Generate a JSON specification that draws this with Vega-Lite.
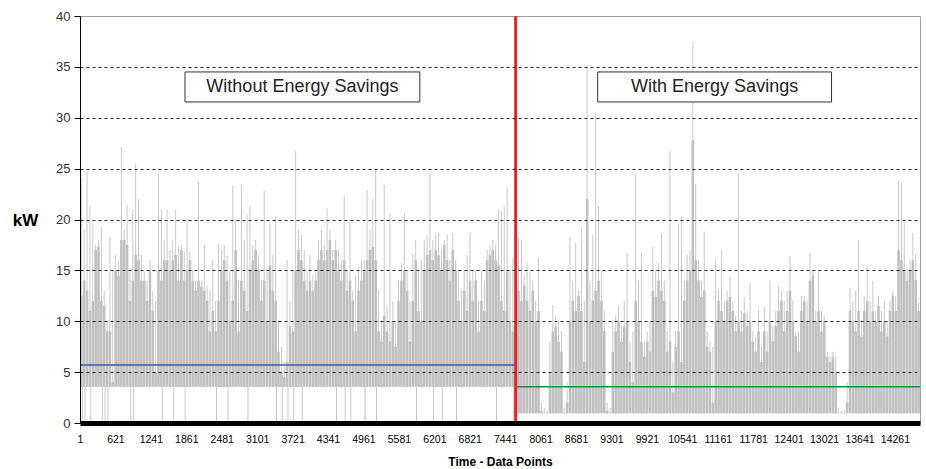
{
"$schema":"https://vega.github.io/schema/vega-lite/v6.json",
"width":840,"height":407,
"autosize":{"type":"none"},
"padding":{"left":80,"top":16,"right":6,"bottom":46},
"config":{"font":"Liberation Sans","view":{"stroke":"#a0a0a0","strokeWidth":1}},
"datasets":{
"p":[
{"x":25,"y":3.55,"b":12.5,"h":24},{"x":75,"y":3.55,"b":14,"h":19},{"x":125,"y":3.55,"b":13,"h":24.7},{"x":175,"y":3.55,"b":11,"h":21.3},{"x":225,"y":3.55,"b":12,"h":19.6},{"x":275,"y":3.55,"b":17,"h":17.5},{"x":325,"y":3.55,"b":17.3,"h":18},{"x":375,"y":3.55,"b":12,"h":19.3},{"x":425,"y":3.55,"b":11.5,"h":13},{"x":475,"y":3.55,"b":9,"h":10},
{"x":525,"y":3.55,"b":9,"h":18.3},{"x":575,"y":3.55,"b":4,"h":15},{"x":625,"y":3.55,"b":15,"h":16.5},{"x":675,"y":3.55,"b":14.5,"h":16},{"x":725,"y":3.55,"b":18,"h":27.1},{"x":775,"y":3.55,"b":18,"h":19},{"x":825,"y":3.55,"b":17.5,"h":21.4},{"x":875,"y":3.55,"b":12,"h":15},{"x":925,"y":3.55,"b":14,"h":21},{"x":975,"y":3.55,"b":16.5,"h":25.5},
{"x":1025,"y":3.55,"b":16,"h":22},{"x":1075,"y":3.55,"b":14,"h":16.5},{"x":1125,"y":3.55,"b":14,"h":15},{"x":1175,"y":3.55,"b":12,"h":14},{"x":1225,"y":3.55,"b":15,"h":16},{"x":1275,"y":3.55,"b":11,"h":13},{"x":1325,"y":3.55,"b":5,"h":12},{"x":1375,"y":3.55,"b":15,"h":24.5},{"x":1425,"y":3.55,"b":14,"h":21},{"x":1475,"y":3.55,"b":16,"h":18},
{"x":1525,"y":3.55,"b":16,"h":21},{"x":1575,"y":3.55,"b":15,"h":17},{"x":1625,"y":3.55,"b":16,"h":18},{"x":1675,"y":3.55,"b":16.5,"h":21},{"x":1725,"y":3.55,"b":14,"h":17.3},{"x":1775,"y":3.55,"b":17,"h":17.5},{"x":1825,"y":3.55,"b":14,"h":16.8},{"x":1875,"y":3.55,"b":15,"h":20},{"x":1925,"y":3.55,"b":16,"h":16.8},{"x":1975,"y":3.55,"b":14,"h":15},
{"x":2025,"y":3.55,"b":13,"h":14},{"x":2075,"y":3.55,"b":14,"h":23.7},{"x":2125,"y":3.55,"b":13.4,"h":14},{"x":2175,"y":3.55,"b":13,"h":17.5},{"x":2225,"y":3.55,"b":12,"h":13.5},{"x":2275,"y":3.55,"b":9,"h":13},{"x":2325,"y":3.55,"b":11,"h":16},{"x":2375,"y":3.55,"b":9,"h":12},{"x":2425,"y":3.55,"b":12,"h":17.5},{"x":2475,"y":3.55,"b":15,"h":17},
{"x":2525,"y":3.55,"b":16,"h":17.5},{"x":2575,"y":3.55,"b":14,"h":16.5},{"x":2625,"y":3.55,"b":10,"h":15},{"x":2675,"y":3.55,"b":12,"h":23.3},{"x":2725,"y":3.55,"b":17,"h":20},{"x":2775,"y":3.55,"b":9,"h":14},{"x":2825,"y":3.55,"b":14,"h":23.4},{"x":2875,"y":3.55,"b":13,"h":18},{"x":2925,"y":3.55,"b":11,"h":20.5},{"x":2975,"y":3.55,"b":15,"h":21.3},
{"x":3025,"y":3.55,"b":16,"h":17.5},{"x":3075,"y":3.55,"b":17,"h":18},{"x":3125,"y":3.55,"b":15,"h":16.5},{"x":3175,"y":3.55,"b":12,"h":14},{"x":3225,"y":3.55,"b":14,"h":22.8},{"x":3275,"y":3.55,"b":10,"h":15},{"x":3325,"y":3.55,"b":15.5,"h":19.6},{"x":3375,"y":3.55,"b":13,"h":16.5},{"x":3425,"y":3.55,"b":12,"h":20.3},{"x":3475,"y":3.55,"b":7,"h":10},
{"x":3525,"y":3.55,"b":5,"h":7.5},{"x":3575,"y":3.55,"b":4.5,"h":6},{"x":3625,"y":3.55,"b":6,"h":16},{"x":3675,"y":3.55,"b":9.5,"h":12},{"x":3725,"y":3.55,"b":9,"h":15},{"x":3775,"y":3.55,"b":15,"h":26.7},{"x":3825,"y":3.55,"b":17,"h":19},{"x":3875,"y":3.55,"b":16,"h":18.5},{"x":3925,"y":3.55,"b":14,"h":17},{"x":3975,"y":3.55,"b":13,"h":15},
{"x":4025,"y":3.55,"b":14,"h":16.5},{"x":4075,"y":3.55,"b":13,"h":14.5},{"x":4125,"y":3.55,"b":14,"h":15},{"x":4175,"y":3.55,"b":16,"h":18},{"x":4225,"y":3.55,"b":17,"h":19},{"x":4275,"y":3.55,"b":16,"h":17.5},{"x":4325,"y":3.55,"b":17,"h":21.1},{"x":4375,"y":3.55,"b":18,"h":19},{"x":4425,"y":3.55,"b":16,"h":17},{"x":4475,"y":3.55,"b":17,"h":18},
{"x":4525,"y":3.55,"b":15,"h":17},{"x":4575,"y":3.55,"b":14,"h":16},{"x":4625,"y":3.55,"b":16,"h":22.3},{"x":4675,"y":3.55,"b":13,"h":15},{"x":4725,"y":3.55,"b":14,"h":20},{"x":4775,"y":3.55,"b":12,"h":13},{"x":4825,"y":3.55,"b":9,"h":14.5},{"x":4875,"y":3.55,"b":13,"h":15},{"x":4925,"y":3.55,"b":14,"h":16},{"x":4975,"y":3.55,"b":15,"h":16},
{"x":5025,"y":3.55,"b":16,"h":22.9},{"x":5075,"y":3.55,"b":17,"h":19},{"x":5125,"y":3.55,"b":17.3,"h":22},{"x":5175,"y":3.55,"b":16,"h":25},{"x":5225,"y":3.55,"b":9,"h":13},{"x":5275,"y":3.55,"b":8,"h":10},{"x":5325,"y":3.55,"b":10.5,"h":23.4},{"x":5375,"y":3.55,"b":9,"h":11.5},{"x":5425,"y":3.55,"b":8,"h":20.6},{"x":5475,"y":3.55,"b":10,"h":12},
{"x":5525,"y":3.55,"b":7.5,"h":10},{"x":5575,"y":3.55,"b":12,"h":14},{"x":5625,"y":3.55,"b":14,"h":15.7},{"x":5675,"y":3.55,"b":15,"h":20.6},{"x":5725,"y":3.55,"b":13,"h":15},{"x":5775,"y":3.55,"b":8,"h":12},{"x":5825,"y":3.55,"b":12,"h":16.6},{"x":5875,"y":3.55,"b":16,"h":18},{"x":5925,"y":3.55,"b":11,"h":15},{"x":5975,"y":3.55,"b":10,"h":16},
{"x":6025,"y":3.55,"b":15,"h":18},{"x":6075,"y":3.55,"b":16.5,"h":18.5},{"x":6125,"y":3.55,"b":17,"h":24.6},{"x":6175,"y":3.55,"b":16,"h":18},{"x":6225,"y":3.55,"b":17,"h":18.5},{"x":6275,"y":3.55,"b":16.5,"h":18.7},{"x":6325,"y":3.55,"b":15,"h":17},{"x":6375,"y":3.55,"b":17.5,"h":18},{"x":6425,"y":3.55,"b":16,"h":18.5},{"x":6475,"y":3.55,"b":14,"h":16},
{"x":6525,"y":3.55,"b":17,"h":18.7},{"x":6575,"y":3.55,"b":15,"h":16},{"x":6625,"y":3.55,"b":12,"h":15},{"x":6675,"y":3.55,"b":10,"h":13},{"x":6725,"y":3.55,"b":13,"h":15},{"x":6775,"y":3.55,"b":11,"h":16.5},{"x":6825,"y":3.55,"b":14,"h":18.7},{"x":6875,"y":3.55,"b":12,"h":15},{"x":6925,"y":3.55,"b":14,"h":15},{"x":6975,"y":3.55,"b":9,"h":12},
{"x":7025,"y":3.55,"b":12,"h":15},{"x":7075,"y":3.55,"b":11,"h":14},{"x":7125,"y":3.55,"b":16,"h":17},{"x":7175,"y":3.55,"b":16.5,"h":17.5},{"x":7225,"y":3.55,"b":17,"h":18},{"x":7275,"y":3.55,"b":16,"h":17.5},{"x":7325,"y":3.55,"b":15.5,"h":21},{"x":7375,"y":3.55,"b":12,"h":20.9},{"x":7425,"y":3.55,"b":11,"h":21.3},{"x":7475,"y":3.55,"b":15,"h":23.2},
{"x":7525,"y":3.55,"b":10,"h":15},{"x":7575,"y":3.55,"b":9,"h":16.3},
{"x":7625,"y":0.95,"b":10,"h":13},{"x":7675,"y":0.95,"b":13,"h":18.3},{"x":7725,"y":0.95,"b":12,"h":18},{"x":7775,"y":0.95,"b":13.5,"h":14.5},{"x":7825,"y":0.95,"b":12,"h":15.7},{"x":7875,"y":0.95,"b":11,"h":14.9},{"x":7925,"y":0.95,"b":13,"h":14},{"x":7975,"y":0.95,"b":10,"h":12},
{"x":8025,"y":0.95,"b":11,"h":16.2},{"x":8075,"y":0.95,"b":1.2,"h":2},{"x":8125,"y":0.95,"b":1,"h":1.5},{"x":8175,"y":0.95,"b":1,"h":1.2},{"x":8225,"y":0.95,"b":5,"h":8},{"x":8275,"y":0.95,"b":9,"h":11.6},{"x":8325,"y":0.95,"b":9.5,"h":10.5},{"x":8375,"y":0.95,"b":8,"h":10},{"x":8425,"y":0.95,"b":7,"h":9},{"x":8475,"y":0.95,"b":1,"h":1.5},
{"x":8525,"y":0.95,"b":2,"h":4},{"x":8575,"y":0.95,"b":10,"h":18.3},{"x":8625,"y":0.95,"b":12,"h":14},{"x":8675,"y":0.95,"b":11,"h":17.7},{"x":8725,"y":0.95,"b":12.5,"h":13},{"x":8775,"y":0.95,"b":11,"h":19.3},{"x":8825,"y":0.95,"b":6,"h":12},{"x":8875,"y":0.95,"b":22,"h":35.2},{"x":8925,"y":0.95,"b":10,"h":14},{"x":8975,"y":0.95,"b":12,"h":18.5},
{"x":9025,"y":0.95,"b":13,"h":30.4},{"x":9075,"y":0.95,"b":14,"h":21.3},{"x":9125,"y":0.95,"b":12,"h":15},{"x":9175,"y":0.95,"b":9,"h":11},{"x":9225,"y":0.95,"b":1.2,"h":2},{"x":9275,"y":0.95,"b":1,"h":1.5},{"x":9325,"y":0.95,"b":7,"h":10},{"x":9375,"y":0.95,"b":9,"h":10.5},{"x":9425,"y":0.95,"b":10,"h":11.5},{"x":9475,"y":0.95,"b":8,"h":9.5},
{"x":9525,"y":0.95,"b":9.5,"h":12},{"x":9575,"y":0.95,"b":10,"h":16.7},{"x":9625,"y":0.95,"b":6,"h":8},{"x":9675,"y":0.95,"b":4,"h":9},{"x":9725,"y":0.95,"b":12,"h":24.5},{"x":9775,"y":0.95,"b":10,"h":14},{"x":9825,"y":0.95,"b":8,"h":16.7},{"x":9875,"y":0.95,"b":6.5,"h":8},{"x":9925,"y":0.95,"b":8,"h":9},{"x":9975,"y":0.95,"b":7,"h":10},
{"x":10025,"y":0.95,"b":13,"h":17.3},{"x":10075,"y":0.95,"b":12.4,"h":15},{"x":10125,"y":0.95,"b":14,"h":15.7},{"x":10175,"y":0.95,"b":13,"h":18.6},{"x":10225,"y":0.95,"b":12,"h":14},{"x":10275,"y":0.95,"b":7,"h":9},{"x":10325,"y":0.95,"b":8,"h":26.7},{"x":10375,"y":0.95,"b":3,"h":6},{"x":10425,"y":0.95,"b":7.5,"h":9},{"x":10475,"y":0.95,"b":9,"h":19.6},
{"x":10525,"y":0.95,"b":6,"h":20.3},{"x":10575,"y":0.95,"b":12,"h":14},{"x":10625,"y":0.95,"b":14,"h":16.5},{"x":10675,"y":0.95,"b":15,"h":17},{"x":10725,"y":0.95,"b":27.8,"h":37.5},{"x":10775,"y":0.95,"b":16,"h":23.5},{"x":10825,"y":0.95,"b":14,"h":16},{"x":10875,"y":0.95,"b":12.4,"h":14},{"x":10925,"y":0.95,"b":13,"h":18.8},{"x":10975,"y":0.95,"b":7.5,"h":9},
{"x":11025,"y":0.95,"b":7,"h":8},{"x":11075,"y":0.95,"b":2,"h":7.5},{"x":11125,"y":0.95,"b":10,"h":16},{"x":11175,"y":0.95,"b":12,"h":13},{"x":11225,"y":0.95,"b":11,"h":17},{"x":11275,"y":0.95,"b":10,"h":12},{"x":11325,"y":0.95,"b":12,"h":13},{"x":11375,"y":0.95,"b":12.4,"h":14.4},{"x":11425,"y":0.95,"b":11,"h":12},{"x":11475,"y":0.95,"b":9,"h":10.5},
{"x":11525,"y":0.95,"b":10,"h":24.5},{"x":11575,"y":0.95,"b":9,"h":11},{"x":11625,"y":0.95,"b":10.8,"h":12.4},{"x":11675,"y":0.95,"b":9.5,"h":11},{"x":11725,"y":0.95,"b":10,"h":13.8},{"x":11775,"y":0.95,"b":8,"h":9},{"x":11825,"y":0.95,"b":7,"h":8.5},{"x":11875,"y":0.95,"b":9,"h":11.1},{"x":11925,"y":0.95,"b":6,"h":7.5},{"x":11975,"y":0.95,"b":9,"h":11.4},
{"x":12025,"y":0.95,"b":7,"h":9},{"x":12075,"y":0.95,"b":10,"h":14},{"x":12125,"y":0.95,"b":8,"h":9.5},{"x":12175,"y":0.95,"b":9.5,"h":11},{"x":12225,"y":0.95,"b":11,"h":13.4},{"x":12275,"y":0.95,"b":12,"h":13},{"x":12325,"y":0.95,"b":9,"h":12},{"x":12375,"y":0.95,"b":11,"h":13},{"x":12425,"y":0.95,"b":13,"h":16.4},{"x":12475,"y":0.95,"b":10,"h":12},
{"x":12525,"y":0.95,"b":8.5,"h":9},{"x":12575,"y":0.95,"b":7,"h":9},{"x":12625,"y":0.95,"b":11,"h":12.5},{"x":12675,"y":0.95,"b":12,"h":12.5},{"x":12725,"y":0.95,"b":10,"h":12},{"x":12775,"y":0.95,"b":14,"h":16.7},{"x":12825,"y":0.95,"b":14.5,"h":15},{"x":12875,"y":0.95,"b":10,"h":11},{"x":12925,"y":0.95,"b":11,"h":15},{"x":12975,"y":0.95,"b":9,"h":11},
{"x":13025,"y":0.95,"b":10,"h":10.5},{"x":13075,"y":0.95,"b":6.5,"h":7},{"x":13125,"y":0.95,"b":6,"h":6.5},{"x":13175,"y":0.95,"b":6.5,"h":7},{"x":13225,"y":0.95,"b":5,"h":6.5},{"x":13275,"y":0.95,"b":1,"h":1.5},{"x":13325,"y":0.95,"b":1,"h":1.2},{"x":13375,"y":0.95,"b":1,"h":1.3},{"x":13425,"y":0.95,"b":2,"h":4},{"x":13475,"y":0.95,"b":11,"h":13.3},
{"x":13525,"y":0.95,"b":10,"h":12},{"x":13575,"y":0.95,"b":9,"h":13},{"x":13625,"y":0.95,"b":11,"h":18},{"x":13675,"y":0.95,"b":8.5,"h":10},{"x":13725,"y":0.95,"b":11,"h":12.5},{"x":13775,"y":0.95,"b":12,"h":15.4},{"x":13825,"y":0.95,"b":10,"h":12},{"x":13875,"y":0.95,"b":11,"h":14},{"x":13925,"y":0.95,"b":10,"h":11},{"x":13975,"y":0.95,"b":11.5,"h":12.5},
{"x":14025,"y":0.95,"b":9,"h":11},{"x":14075,"y":0.95,"b":10,"h":12},{"x":14125,"y":0.95,"b":8.5,"h":10},{"x":14175,"y":0.95,"b":11,"h":12},{"x":14225,"y":0.95,"b":12.5,"h":13},{"x":14275,"y":0.95,"b":11,"h":12.5},{"x":14325,"y":0.95,"b":17,"h":23.8},{"x":14375,"y":0.95,"b":16,"h":23.6},{"x":14425,"y":0.95,"b":15,"h":19.7},{"x":14475,"y":0.95,"b":14,"h":15.2},
{"x":14525,"y":0.95,"b":15,"h":16},{"x":14575,"y":0.95,"b":16,"h":18.7},{"x":14625,"y":0.95,"b":14,"h":16.6},{"x":14675,"y":0.95,"b":11,"h":11.8}
],
"dips":[
{"x":40,"y":0,"h":3.55},{"x":90,"y":0,"h":3.55},{"x":190,"y":0,"h":3.55},{"x":390,"y":0,"h":3.55},{"x":440,"y":0,"h":3.55},{"x":490,"y":0,"h":3.55},{"x":890,"y":0,"h":3.55},{"x":940,"y":0,"h":3.55},{"x":1440,"y":0,"h":3.55},{"x":1640,"y":0,"h":3.55},
{"x":1840,"y":0,"h":3.55},{"x":2390,"y":0,"h":3.55},{"x":2590,"y":0,"h":3.55},{"x":2940,"y":0,"h":3.55},{"x":3440,"y":0,"h":3.55},{"x":3540,"y":0,"h":3.55},{"x":3640,"y":0,"h":3.55},{"x":3740,"y":0,"h":3.55},{"x":3890,"y":0,"h":3.55},{"x":4490,"y":0,"h":3.55},
{"x":4640,"y":0,"h":3.55},{"x":4740,"y":0,"h":3.55},{"x":4990,"y":0,"h":3.55},{"x":5190,"y":0,"h":3.55},{"x":5890,"y":0,"h":3.55},{"x":6190,"y":0,"h":3.55},{"x":6340,"y":0,"h":3.55},{"x":6590,"y":0,"h":3.55},{"x":7290,"y":0,"h":3.55},{"x":7590,"y":0,"h":3.55}
],
"means":[{"x":1,"x2":7620,"y":5.7,"s":"Without Energy Savings"},{"x":7650,"x2":14700,"y":3.57,"s":"With Energy Savings"}],
"split":[{"x":7625,"y":0,"h":40}],
"boxes":[{"x":1838,"x2":5948,"y":31.55,"h":34.5},{"x":9060,"x2":13152,"y":31.55,"h":34.5}],
"labels":[{"x":3893,"y":33.0,"t":"Without Energy Savings"},{"x":11106,"y":33.0,"t":"With Energy Savings"}]
},
"encoding":{
"x":{"field":"x","type":"quantitative","title":"Time - Data Points","scale":{"domain":[1,14700],"nice":false,"zero":false},
"axis":{"values":[1,621,1241,1861,2481,3101,3721,4341,4961,5581,6201,6821,7441,8061,8681,9301,9921,10541,11161,11781,12401,13021,13641,14261],"format":"d","ticks":false,"domainColor":"#000","domainWidth":5,"labelFontSize":10.5,"labelColor":"#000","labelPadding":11,"labelFlush":false,"labelOverlap":false,"grid":false,"titleFontSize":12,"titleFontWeight":"bold","titleColor":"#000","titlePadding":12,"zindex":1}},
"y":{"field":"y","type":"quantitative","title":"kW","scale":{"domain":[0,40],"nice":false},
"axis":{"values":[0,5,10,15,20,25,30,35,40],"tickSize":6,"tickColor":"#000","domainColor":"#000","labelFontSize":13,"labelColor":"#333","labelPadding":4,"grid":true,"gridDash":[3,3],"gridColor":"#000","gridOpacity":{"condition":{"test":"datum.value >= 40","value":0},"value":0.85},"titleAngle":0,"titleFontSize":17,"titleFontWeight":"bold","titleColor":"#000","titleX":-55,"titleY":204,"titleAlign":"center","titleBaseline":"middle","zindex":1}}
},
"layer":[
{"data":{"name":"p"},"mark":{"type":"rule","color":"#c8c8c8","strokeWidth":1},"encoding":{"y2":{"field":"h"}}},
{"data":{"name":"p"},"mark":{"type":"rule","color":"#c0c0c0","strokeWidth":2.6},"encoding":{"y2":{"field":"b"}}},
{"data":{"name":"dips"},"mark":{"type":"rule","color":"#c8c8c8","strokeWidth":1},"encoding":{"y2":{"field":"h"}}},
{"data":{"name":"means"},"mark":{"type":"rule","strokeWidth":1.6},"encoding":{"x2":{"field":"x2"},"color":{"field":"s","type":"nominal","scale":{"domain":["Without Energy Savings","With Energy Savings"],"range":["#3b5ba8","#1f8a3c"]},"legend":null}}},
{"data":{"name":"split"},"mark":{"type":"rule","color":"#e3242b","strokeWidth":3},"encoding":{"y2":{"field":"h"}}},
{"data":{"name":"boxes"},"mark":{"type":"rect","fill":"#ffffff","stroke":"#333333","strokeWidth":1},"encoding":{"x2":{"field":"x2"},"y2":{"field":"h"}}},
{"data":{"name":"labels"},"mark":{"type":"text","fontSize":18,"color":"#222222","align":"center","baseline":"middle"},"encoding":{"text":{"field":"t"}}}
]
}
